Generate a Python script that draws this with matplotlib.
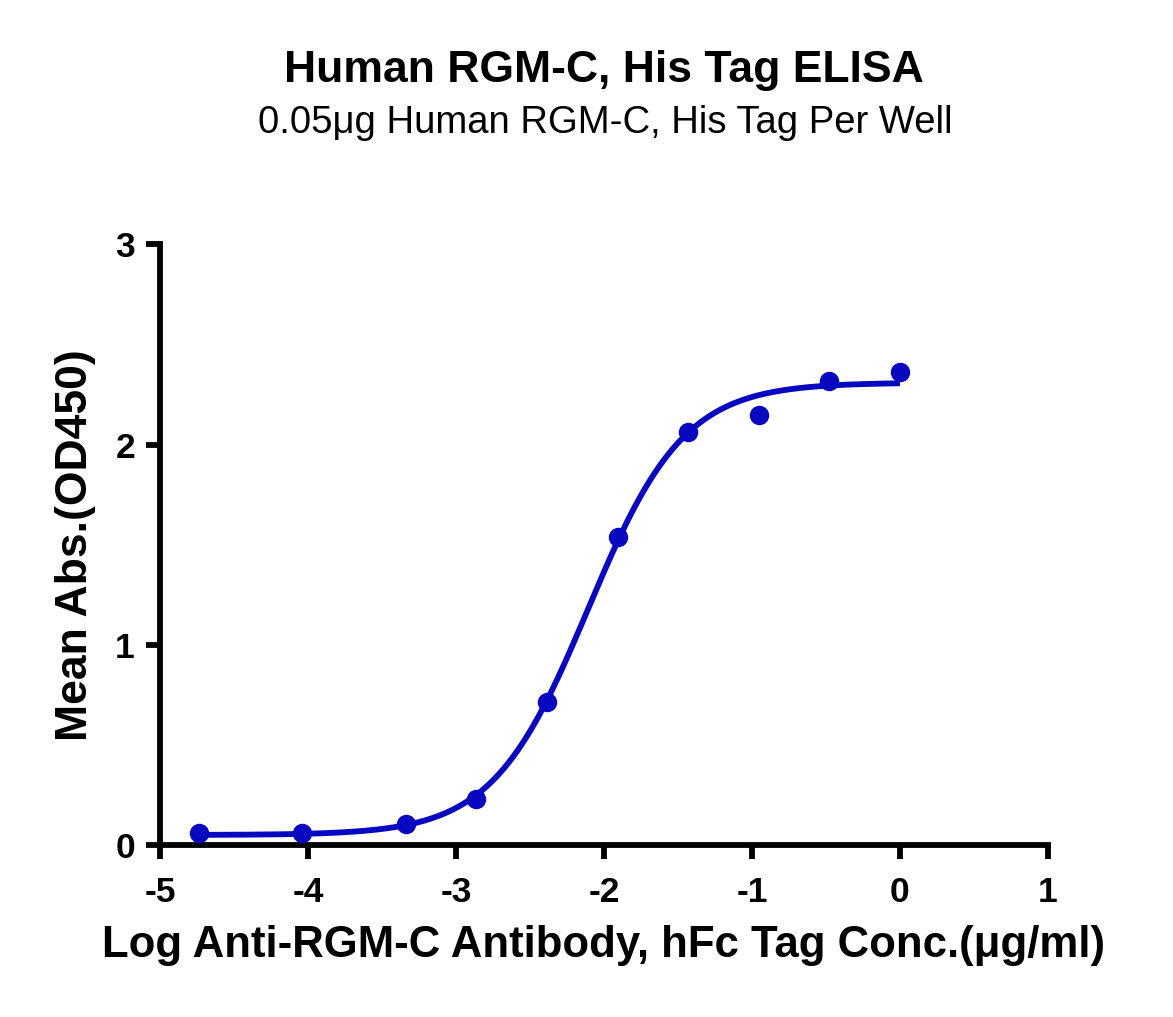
import numpy as np
import matplotlib
matplotlib.use("Agg")
import matplotlib.pyplot as plt

plt.rcParams['font.family'] = ['Liberation Sans', 'DejaVu Sans']
plt.rcParams['axes.unicode_minus'] = False

# log10 concentration (ug/ml) and mean OD450
log_conc = [-4.738, -4.039, -3.340, -2.863, -2.386, -1.908, -1.431, -0.954, -0.477, 0.0]
mean_od = [0.058, 0.061, 0.105, 0.229, 0.714, 1.539, 2.063, 2.147, 2.320, 2.363]

# 4PL fit parameters
fit_bottom = 0.05
fit_top = 2.31
fit_logec50 = -2.107
fit_hill = 1.34

blue = '#0808C0'

fig = plt.figure(figsize=(11.73, 10.17), dpi=100)
ax = fig.add_axes([0.1364, 0.1691, 0.7570, 0.5905])

xs = np.linspace(min(log_conc), max(log_conc), 300)
ys = fit_bottom + (fit_top - fit_bottom) / (1 + 10 ** ((fit_logec50 - xs) * fit_hill))
ax.plot(xs, ys, color=blue, lw=4.2, solid_capstyle='butt', zorder=2)
ax.plot(log_conc, mean_od, 'o', color=blue, ms=13, zorder=3)

ax.set_xlim(-5, 1)
ax.set_ylim(0, 3)
ax.set_xticks([-5, -4, -3, -2, -1, 0, 1])
ax.set_yticks([0, 1, 2, 3])
for s in ['top', 'right']:
    ax.spines[s].set_visible(False)
for s in ['left', 'bottom']:
    ax.spines[s].set_linewidth(4.2)
ax.tick_params(width=4.2, length=10, labelsize=25.5)
ax.tick_params(axis='x', pad=12)
ax.tick_params(axis='y', pad=8)
for lab in ax.get_xticklabels() + ax.get_yticklabels():
    lab.set_fontweight('bold')

ax.set_xlabel('Log Anti-RGM-C Antibody, hFc Tag Conc.(\u03bcg/ml)', fontsize=31.5, fontweight='bold', labelpad=12)
ax.set_ylabel('Mean Abs.(OD450)', fontsize=32, fontweight='bold', labelpad=14)

fig.text(0.515, 0.931, 'Human RGM-C, His Tag ELISA', ha='center', va='center', fontsize=32, fontweight='bold')
fig.text(0.516, 0.879, '0.05\u03bcg Human RGM-C, His Tag Per Well', ha='center', va='center', fontsize=27.5)

fig.savefig('out.png', dpi=100)
